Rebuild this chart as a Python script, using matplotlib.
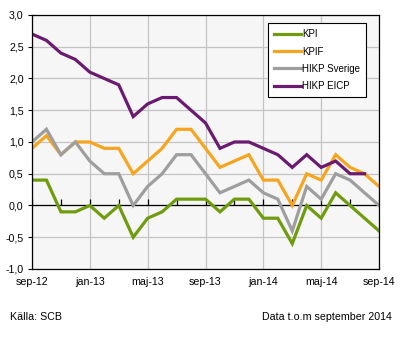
import matplotlib
matplotlib.use("Agg")
import matplotlib.pyplot as plt
from matplotlib.ticker import FuncFormatter

plt.rcParams['font.family'] = ['Liberation Sans', 'DejaVu Sans']

months = ["sep-12", "okt-12", "nov-12", "dec-12", "jan-13", "feb-13", "mar-13", "apr-13",
          "maj-13", "jun-13", "jul-13", "aug-13", "sep-13", "okt-13", "nov-13", "dec-13",
          "jan-14", "feb-14", "mar-14", "apr-14", "maj-14", "jun-14", "jul-14", "aug-14",
          "sep-14"]

kpi = [0.4, 0.4, -0.1, -0.1, 0.0, -0.2, 0.0, -0.5, -0.2, -0.1, 0.1, 0.1, 0.1,
       -0.1, 0.1, 0.1, -0.2, -0.2, -0.6, 0.0, -0.2, 0.2, 0.0, -0.2, -0.4]
kpif = [0.9, 1.1, 0.8, 1.0, 1.0, 0.9, 0.9, 0.5, 0.7, 0.9, 1.2, 1.2, 0.9,
        0.6, 0.7, 0.8, 0.4, 0.4, 0.0, 0.5, 0.4, 0.8, 0.6, 0.5, 0.3]
hikp_se = [1.0, 1.2, 0.8, 1.0, 0.7, 0.5, 0.5, 0.0, 0.3, 0.5, 0.8, 0.8, 0.5,
           0.2, 0.3, 0.4, 0.2, 0.1, -0.4, 0.3, 0.1, 0.5, 0.4, 0.2, 0.0]
hikp_eicp = [2.7, 2.6, 2.4, 2.3, 2.1, 2.0, 1.9, 1.4, 1.6, 1.7, 1.7, 1.5, 1.3,
             0.9, 1.0, 1.0, 0.9, 0.8, 0.6, 0.8, 0.6, 0.7, 0.5, 0.5]

series = [
    ("KPI", kpi, "#6f9c0c"),
    ("KPIF", kpif, "#f7a51e"),
    ("HIKP Sverige", hikp_se, "#9e9e9e"),
    ("HIKP EICP", hikp_eicp, "#6b1b6f"),
]

fig = plt.figure(figsize=(4.09, 3.52), dpi=100)
ax = fig.add_axes([0.0782, 0.2358, 0.8485, 0.7216])
ax.set_facecolor("#f6f6f6")

for label, vals, color in series:
    ax.plot(range(len(vals)), vals, color=color, linewidth=2.3, label=label,
            solid_joinstyle="miter")

ax.set_xlim(0, len(months) - 1)
ax.set_ylim(-1.0, 3.0)
ax.set_yticks([-1.0, -0.5, 0.0, 0.5, 1.0, 1.5, 2.0, 2.5, 3.0])
ax.yaxis.set_major_formatter(FuncFormatter(lambda v, p: f"{v:.1f}".replace(".", ",")))
ax.set_xticks(range(0, len(months), 4))
ax.set_xticklabels(months[::4])
ax.tick_params(axis="x", length=0, pad=6, labelsize=7.7)
ax.tick_params(axis="y", length=3, width=0.8, direction="out", pad=3, labelsize=7.7)

ax.grid(True, color="#c4c4c4", linewidth=0.9)
ax.set_axisbelow(True)
for s in ax.spines.values():
    s.set_color("black")
    s.set_linewidth(0.9)

# zero line with small ticks every second month
ax.axhline(0, color="black", linewidth=0.9, zorder=1.5)
ax.plot(range(0, len(months), 2), [0] * len(range(0, len(months), 2)), linestyle="none",
        marker=2, markersize=4, markeredgewidth=0.9, color="black", zorder=1.5)

leg = ax.legend(loc="upper right", bbox_to_anchor=(0.9625, 0.967), fontsize=7,
                frameon=True, fancybox=False, edgecolor="black", framealpha=1,
                handlelength=2.8, handletextpad=0.1, labelspacing=0.75,
                borderpad=0.6, borderaxespad=0)
leg.get_frame().set_linewidth(0.8)

fig.text(0.025, 0.1, "Källa: SCB", fontsize=7.7, va="center", ha="left")
fig.text(0.958, 0.1, "Data t.o.m september 2014", fontsize=7.7, va="center", ha="right")

fig.savefig("out.png", dpi=100)
